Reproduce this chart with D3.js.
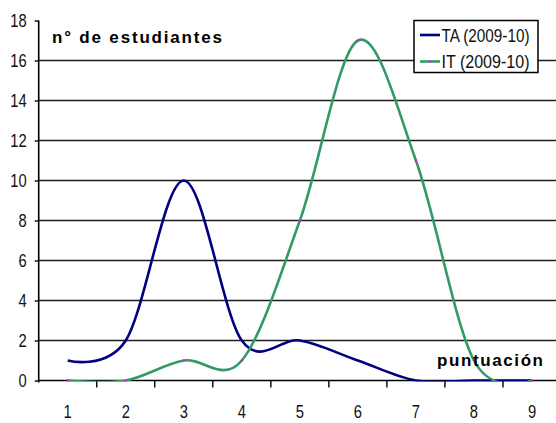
<!DOCTYPE html>
<html><head><meta charset="utf-8">
<script src="https://cdn.jsdelivr.net/npm/d3@7"></script>
<style>
html,body{margin:0;padding:0;background:#fff;}
svg{display:block;}
text{font-family:"Liberation Sans",Arial,sans-serif;}
</style></head>
<body>
<svg id="chart" width="556" height="423"></svg>
<script>
const categories = [1,2,3,4,5,6,7,8,9];
const taValues = [1,2,10,2,2,1,0,0,0];
const itValues = [0,0,1,1,8,17,11,1,0];
const yTicks = [0,2,4,6,8,10,12,14,16,18];
const seriesNames = ["TA (2009-10)","IT (2009-10)"];
const seriesColors = ["#000080","#339966"];
const yTitle = "n° de estudiantes";
const xTitle = "puntuación";

const svg = d3.select("#chart");
const W = 556, H = 423;
const plot = {left:38.7, right:561, top:20.5, bottom:380.5};

const x = d3.scaleBand().domain(categories).range([plot.left, plot.right]);
const xc = d => x(d) + x.bandwidth()/2;
const y = d3.scaleLinear().domain([0,18]).range([plot.bottom, plot.top]);

svg.append("rect").attr("width",W).attr("height",H).attr("fill","#fff");

// gridlines
svg.append("g").selectAll("line").data(yTicks.filter(v=>v>0 && v<18)).join("line")
  .attr("x1",plot.left).attr("x2",W).attr("y1",d=>y(d)).attr("y2",d=>y(d))
  .attr("stroke","#1c1c1c").attr("stroke-width",1.4);

// y axis
const yAxis = svg.append("g").attr("transform",`translate(${plot.left},0)`)
  .call(d3.axisLeft(y).tickValues(yTicks).tickSize(4).tickPadding(0));
yAxis.select(".domain").attr("stroke","#000").attr("stroke-width",1.6).attr("d",`M0,${plot.top}V${plot.bottom+2}`);
yAxis.selectAll(".tick line").attr("stroke","#000").attr("stroke-width",1.4);
yAxis.selectAll(".tick text").attr("font-size",18).attr("fill","#111")
  .attr("font-family","Liberation Sans, Arial, sans-serif")
  .attr("transform","scale(0.82,1)").attr("x",-12/0.82).attr("dy","0.36em");

// x axis
const xAxis = svg.append("g").attr("transform",`translate(0,${plot.bottom})`)
  .call(d3.axisBottom(x).tickSize(0).tickPadding(0));
xAxis.select(".domain").attr("stroke","#000").attr("stroke-width",1.6).attr("d",`M${plot.left},0H${W}`);
xAxis.selectAll(".tick text").attr("font-size",18).attr("fill","#111")
  .attr("font-family","Liberation Sans, Arial, sans-serif")
  .attr("transform","scale(0.82,1)").attr("y",38).attr("dy",0).attr("x",0);
// boundary tick marks between categories
svg.append("g").selectAll("line").data(categories.slice(1)).join("line")
  .attr("x1",d=>x(d)).attr("x2",d=>x(d)).attr("y1",plot.bottom).attr("y2",plot.bottom+7)
  .attr("stroke","#000").attr("stroke-width",1.4);

// clip
svg.append("clipPath").attr("id","clip").append("rect")
  .attr("x",plot.left).attr("y",plot.top-10).attr("width",W-plot.left).attr("height",plot.bottom-plot.top+11);

const line = d3.line().x((d,i)=>xc(categories[i])).y(d=>y(d)).curve(d3.curveCardinal.tension(0));
const lines = svg.append("g").attr("clip-path","url(#clip)");
[taValues,itValues].forEach((vals,k)=>{
  lines.append("path").attr("d",line(vals)).attr("fill","none")
    .attr("stroke",seriesColors[k]).attr("stroke-width",2.6).attr("stroke-linejoin","round");
});
// magenta tiny markers on IT
svg.append("g").selectAll("rect").data(itValues).join("rect")
  .attr("x",(d,i)=>xc(categories[i])-1).attr("y",d=>y(d)-1).attr("width",2).attr("height",2)
  .attr("fill","#ff00ff");

// titles
svg.append("text").attr("x",52).attr("y",42.5).attr("font-size",17).attr("font-weight","bold")
  .attr("fill","#000").attr("textLength",170).attr("lengthAdjust","spacing").text(yTitle);
svg.append("text").attr("x",437).attr("y",366).attr("font-size",17).attr("font-weight","bold")
  .attr("fill","#000").attr("textLength",106).attr("lengthAdjust","spacing").text(xTitle);

// legend
const lg = svg.append("g");
lg.append("rect").attr("x",414).attr("y",20.5).attr("width",124).attr("height",52)
  .attr("fill","#fff").attr("stroke","#000").attr("stroke-width",1.5);
seriesNames.forEach((n,k)=>{
  const ly = 35 + k*26.5;
  lg.append("line").attr("x1",420).attr("x2",440).attr("y1",ly).attr("y2",ly)
    .attr("stroke",seriesColors[k]).attr("stroke-width",2.6);
  if(k===1) lg.append("rect").attr("x",429).attr("y",ly-1).attr("width",2).attr("height",2).attr("fill","#ff00ff");
  lg.append("text").attr("x",441.5).attr("y",ly+6.8).attr("font-size",19).attr("fill","#111")
    .attr("textLength",88).attr("lengthAdjust","spacingAndGlyphs").text(n);
});
</script>
</body></html>
